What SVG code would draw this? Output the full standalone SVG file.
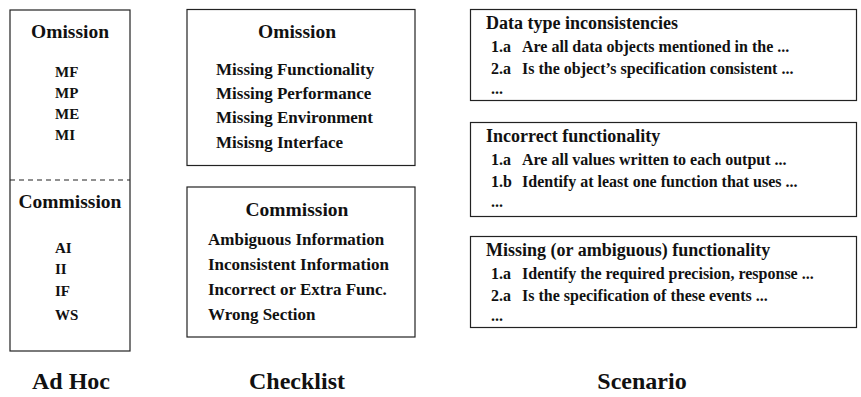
<svg xmlns="http://www.w3.org/2000/svg" width="861" height="397" viewBox="0 0 861 397">
<style>
text{font-family:"Liberation Serif","Times New Roman",serif;font-weight:bold;fill:#111}
.box{fill:#fff;stroke:#222;stroke-width:1.2}
.h{font-size:19.5px;text-anchor:middle}
.s{font-size:15px}
.c{font-size:17px}
.t{font-size:18px}
.l{font-size:16px}
.cap{font-size:24px;text-anchor:middle}
</style>
<rect width="861" height="397" fill="#fff"/>
<g id="adhoc">
<rect class="box" x="10" y="10" width="120" height="341"/>
<line x1="10" y1="180" x2="130" y2="180" stroke="#222" stroke-width="1.2" stroke-dasharray="5,4"/>
<text class="h" x="70" y="38">Omission</text>
<text class="s" x="55" y="77">MF</text>
<text class="s" x="55" y="98">MP</text>
<text class="s" x="55" y="119">ME</text>
<text class="s" x="55" y="140">MI</text>
<text class="h" x="70" y="208">Commission</text>
<text class="s" x="55" y="253">AI</text>
<text class="s" x="55" y="274">II</text>
<text class="s" x="55" y="296">IF</text>
<text class="s" x="55" y="320">WS</text>
</g>
<g id="checklist-omission">
<rect class="box" x="187" y="9.5" width="228" height="156"/>
<text class="h" x="297" y="38">Omission</text>
<text class="c" x="216" y="75">Missing Functionality</text>
<text class="c" x="216" y="99">Missing Performance</text>
<text class="c" x="216" y="123">Missing Environment</text>
<text class="c" x="216" y="148">Misisng Interface</text>
</g>
<g id="checklist-commission">
<rect class="box" x="187" y="187" width="228" height="150"/>
<text class="h" x="297" y="216">Commission</text>
<text class="c" x="208" y="245">Ambiguous Information</text>
<text class="c" x="208" y="270">Inconsistent Information</text>
<text class="c" x="208" y="295">Incorrect or Extra Func.</text>
<text class="c" x="208" y="320">Wrong Section</text>
</g>
<g id="scenario-data">
<rect class="box" x="470.5" y="9.5" width="386" height="91"/>
<text class="t" x="486" y="29">Data type inconsistencies</text>
<text class="l" x="491" y="52">1.a</text><text class="l" x="522" y="52">Are all data objects mentioned in the ...</text>
<text class="l" x="491" y="74">2.a</text><text class="l" x="522" y="74">Is the object’s specification consistent ...</text>
<text class="l" x="491" y="94">...</text>
</g>
<g id="scenario-incorrect">
<rect class="box" x="470.5" y="122.5" width="386" height="94"/>
<text class="t" x="486" y="142">Incorrect functionality</text>
<text class="l" x="491" y="165">1.a</text><text class="l" x="522" y="165">Are all values written to each output ...</text>
<text class="l" x="491" y="187">1.b</text><text class="l" x="522" y="187">Identify at least one function that uses ...</text>
<text class="l" x="491" y="207">...</text>
</g>
<g id="scenario-missing">
<rect class="box" x="470.5" y="236.5" width="386" height="91"/>
<text class="t" x="486" y="256">Missing (or ambiguous) functionality</text>
<text class="l" x="491" y="279">1.a</text><text class="l" x="522" y="279">Identify the required precision, response ...</text>
<text class="l" x="491" y="301">2.a</text><text class="l" x="522" y="301">Is the specification of these events ...</text>
<text class="l" x="491" y="321">...</text>
</g>
<g id="captions">
<text class="cap" x="71" y="389">Ad Hoc</text>
<text class="cap" x="297" y="389">Checklist</text>
<text class="cap" x="642" y="389">Scenario</text>
</g>
<g id="connectors"></g>
</svg>
